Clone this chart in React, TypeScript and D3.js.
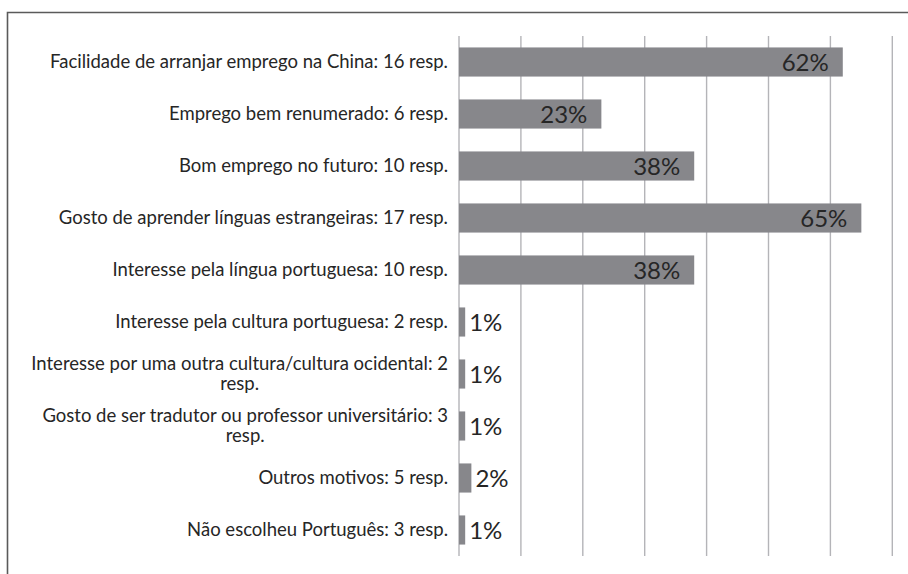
import { useEffect, useRef } from "react";
import * as d3 from "d3";

const categories = [
  "Facilidade de arranjar emprego na China: 16 resp.",
  "Emprego bem renumerado: 6 resp.",
  "Bom emprego no futuro: 10 resp.",
  "Gosto de aprender línguas estrangeiras: 17 resp.",
  "Interesse pela língua portuguesa: 10 resp.",
  "Interesse pela cultura portuguesa: 2 resp.",
  "Interesse por uma outra cultura/cultura ocidental: 2\nresp.",
  "Gosto de ser tradutor ou professor universitário: 3\nresp.",
  "Outros motivos: 5 resp.",
  "Não escolheu Português: 3 resp.",
];
const values = [62, 23, 38, 65, 38, 1, 1, 1, 2, 1];
const gridTicks = [0, 10, 20, 30, 40, 50, 60, 70];

export default function App() {
  const svgRef = useRef<SVGSVGElement | null>(null);

  useEffect(() => {
    const width = 908;
    const height = 574;
    const svg = d3.select(svgRef.current);
    svg.selectAll("*").remove();
    svg.attr("width", width).attr("height", height);

    const plot = { left: 459, right: 892.3, top: 36, bottom: 556 };

    const x = d3.scaleLinear().domain([0, 70]).range([plot.left, plot.right]);
    const y = d3.scaleBand<string>()
      .domain(categories)
      .range([plot.top, plot.bottom])
      .paddingInner(0.44)
      .paddingOuter(0.22);

    svg.append("rect")
      .attr("width", width)
      .attr("height", height)
      .attr("fill", "#fff");

    // frame (runs off the right and bottom edges)
    svg.append("path")
      .attr("d", `M7.5,${height + 2} L7.5,12.5 L${width + 2},12.5`)
      .attr("fill", "none")
      .attr("stroke", "#5a5a5a")
      .attr("stroke-width", 1.6);

    svg.append("g")
      .selectAll("line")
      .data(gridTicks)
      .join("line")
      .attr("x1", (d) => x(d))
      .attr("x2", (d) => x(d))
      .attr("y1", plot.top)
      .attr("y2", plot.bottom)
      .attr("stroke", "#b4b4b8")
      .attr("stroke-width", 1.4);

    svg.append("g")
      .selectAll("rect")
      .data(values)
      .join("rect")
      .attr("x", x(0))
      .attr("y", (_, i) => y(categories[i])!)
      .attr("width", (d) => x(d) - x(0))
      .attr("height", y.bandwidth())
      .attr("fill", "#87878b");

    // value labels
    const vl = svg.append("g")
      .attr("font-family", "Lato, sans-serif")
      .attr("font-size", 24)
      .attr("fill", "#262626");
    values.forEach((v, i) => {
      const cy = y(categories[i])! + y.bandwidth() / 2;
      const t = vl.append("text")
        .attr("y", cy)
        .attr("dy", "0.36em")
        .text(`${v}%`);
      const w = (t.node() as SVGTextElement).getComputedTextLength();
      const barW = x(v) - x(0);
      if (barW > w + 20) {
        t.attr("x", x(v) - 14).attr("text-anchor", "end");
      } else {
        t.attr("x", x(v) + 4).attr("text-anchor", "start");
      }
    });

    // category labels, wrapped lines centred within a right-aligned block
    const cl = svg.append("g")
      .attr("font-family", "Lato, sans-serif")
      .attr("font-size", 18.5)
      .attr("fill", "#262626");
    const labelRight = 448;
    const lineH = 20;
    categories.forEach((c) => {
      const lines = c.split("\n");
      const cy = y(c)! + y.bandwidth() / 2;
      const texts = lines.map((ln, j) =>
        cl.append("text")
          .attr("y", cy + (j - (lines.length - 1) / 2) * lineH)
          .attr("dy", "0.35em")
          .text(ln)
      );
      const widths = texts.map((t) => (t.node() as SVGTextElement).getComputedTextLength());
      const maxW = d3.max(widths) ?? 0;
      texts.forEach((t) => {
        t.attr("x", labelRight - maxW / 2).attr("text-anchor", "middle");
      });
    });
  }, []);

  return (
    <svg
      ref={svgRef}
      style={{ position: "absolute", left: 0, top: 0, display: "block" }}
    />
  );
}
